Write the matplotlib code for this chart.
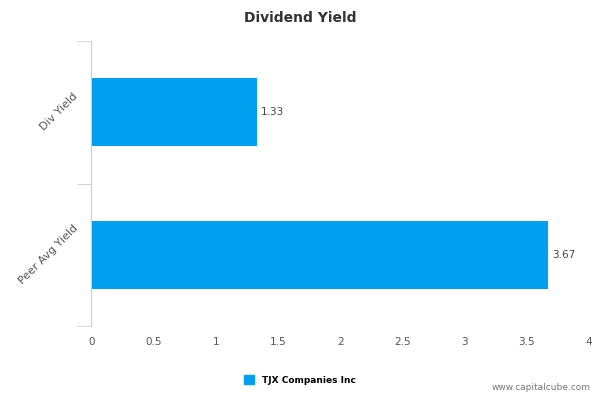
import matplotlib.pyplot as plt
from matplotlib.patches import Patch

categories = ["Div Yield", "Peer Avg Yield"]
values = [1.33, 3.67]
x_ticks = [0, 0.5, 1, 1.5, 2, 2.5, 3, 3.5, 4]
x_labels = ["0", "0.5", "1", "1.5", "2", "2.5", "3", "3.5", "4"]
series_name = "TJX Companies Inc"
bar_color = "#009fef"

fig = plt.figure(figsize=(6, 4), dpi=100)
ax = fig.add_axes([0.152, 0.185, 0.83, 0.7125])

pos = list(range(len(categories)))
ax.barh(pos, values, height=0.48, color=bar_color)
for p, v in zip(pos, values):
    ax.text(v + 0.03, p, f"{v:.2f}", va="center", ha="left", fontsize=7.5, color="#444444")

ax.set_ylim(1.5, -0.5)
ax.set_xlim(0, 4)
ax.set_yticks(pos)
ax.set_yticklabels(categories, rotation=45, ha="right", va="center", fontsize=8, color="#555555")
ax.set_yticks([-0.5, 0.5, 1.5], minor=True)
ax.tick_params(axis="y", which="major", length=0, pad=8)
ax.tick_params(axis="y", which="minor", length=10, color="#cccccc")
ax.set_xticks(x_ticks)
ax.set_xticklabels(x_labels, fontsize=7.5, color="#555555")
ax.tick_params(axis="x", length=0, pad=8)

for s in ["top", "right", "bottom"]:
    ax.spines[s].set_visible(False)
ax.spines["left"].set_color("#cccccc")

fig.text(0.5, 0.955, "Dividend Yield", ha="center", va="center", fontsize=10, fontweight="bold", color="#333333")
fig.legend(handles=[Patch(color=bar_color, label=series_name)], loc="center",
           bbox_to_anchor=(0.5, 0.05), frameon=False, handlelength=1.1, handleheight=1.1,
           prop={"size": 6.5, "weight": "bold"})
fig.text(0.985, 0.02, "www.capitalcube.com", ha="right", va="bottom", fontsize=6.5, color="#777777")

fig.savefig("out.png", dpi=100)
